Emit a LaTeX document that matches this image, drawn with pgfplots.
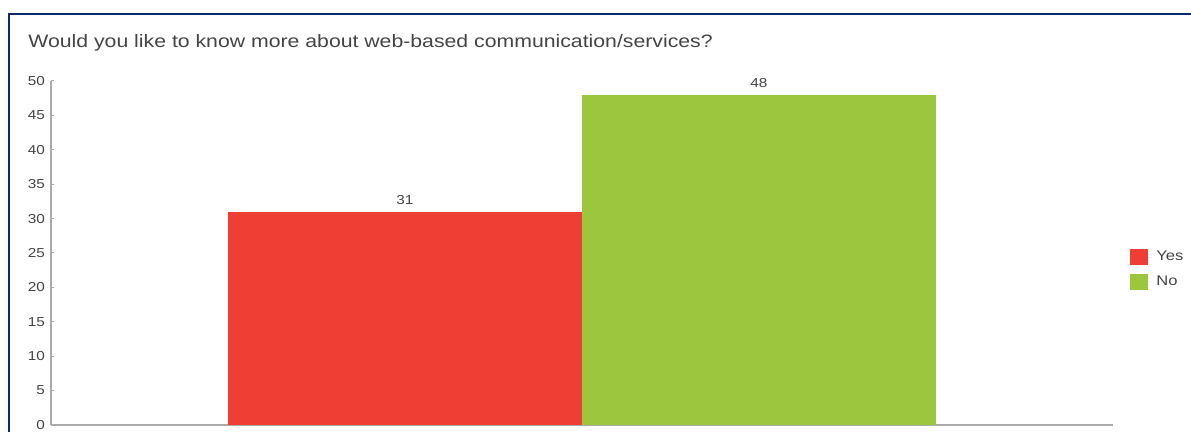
\documentclass[border=0pt]{standalone}
\usepackage{pgfplots}
\pgfplotsset{compat=1.18}
\usepackage{fontspec}
\setmainfont{Liberation Sans}[FakeStretch=1.18]
\definecolor{barred}{HTML}{EF3E33}
\definecolor{bargreen}{HTML}{9BC63D}
\definecolor{axgray}{HTML}{AAAAAA}
\definecolor{txtgray}{HTML}{444444}
\definecolor{framenavy}{HTML}{0E2A6C}
\begin{document}
\begin{tikzpicture}[x=0.5pt,y=0.5pt]
\path[use as bounding box] (0,0) rectangle (1191,432);
\begin{scope}
\clip (0,0) rectangle (1191,432);
\draw[framenavy,line width=1pt] (8.5,-10) -- (8.5,417.5) -- (1200,417.5);
\end{scope}
\node[anchor=base west,inner sep=0pt,text=txtgray,font=\fontsize{9pt}{11pt}\selectfont] at (28,384) {Would you like to know more about web-based communication/services?};
\begin{axis}[
  at={(25.5pt,3.5pt)}, anchor=south west,
  scale only axis, width=531pt, height=172pt,
  xmin=-1, xmax=2, ymin=0, ymax=50,
  ytick={0,5,...,50},
  xtick=\empty,
  axis x line*=bottom, axis y line*=left,
  axis line style={axgray, line width=0.6pt},
  x axis line style={line width=0.9pt, -},
  y axis line style={-},
  tick style={axgray, line width=0.5pt},
  major tick length=1.5pt,
  y tick label style={font=\fontsize{6.5pt}{8pt}\selectfont, text=txtgray, xshift=0.5pt},
  /pgf/number format/assume math mode=true,
  ybar, bar width=1, bar shift=0pt,
  nodes near coords,
  every node near coord/.append style={font=\fontsize{6.5pt}{8pt}\selectfont, text=txtgray, yshift=0pt},
  legend style={at={(1.016,0.452)}, anchor=west, draw=none, fill=none, inner sep=0pt, row sep=2pt,
    font=\fontsize{7pt}{8pt}\selectfont, text=txtgray, nodes={inner sep=2pt}},
  legend cell align=left,
  legend image code/.code={\fill[#1] (0pt,-4pt) rectangle (9pt,4pt); \path (0pt,0pt) -- (11pt,0pt);},
]
\addplot[fill=barred, draw=none] coordinates {(0,31)};
\addlegendentry{Yes}
\addplot[fill=bargreen, draw=none] coordinates {(1,48)};
\addlegendentry{No}
\end{axis}
\end{tikzpicture}
\end{document}
